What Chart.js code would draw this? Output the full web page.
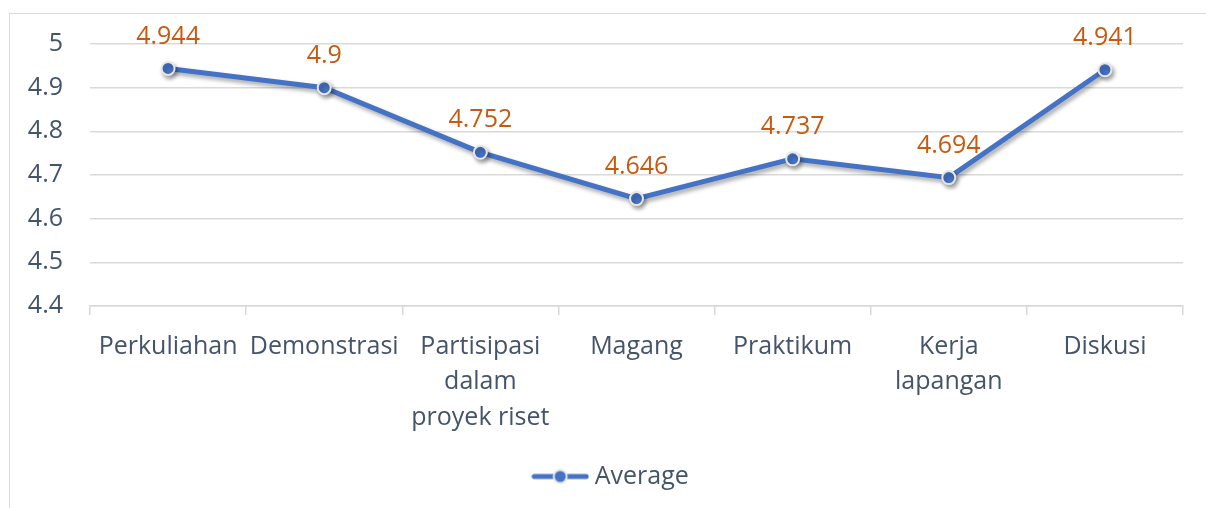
<!DOCTYPE html>
<html>
<head>
<meta charset="utf-8">
<script src="https://cdn.jsdelivr.net/npm/chart.js@4/dist/chart.umd.min.js"></script>
<style>
html, body { margin: 0; padding: 0; background: #fff; }
#marco { position: absolute; left: 9px; top: 13px; width: 1300px; height: 600px; border: 1.5px solid #d9d9d9; }
#lienzo { position: absolute; left: 0; top: 0; }
</style>
</head>
<body>
<div id="marco"></div>
<canvas id="lienzo" width="1206" height="508"></canvas>
<script>
// datos
const categorias = ['Perkuliahan', 'Demonstrasi', ['Partisipasi', 'dalam', 'proyek riset'], 'Magang', 'Praktikum', ['Kerja', 'lapangan'], 'Diskusi'];
const promedio = [4.944, 4.9, 4.752, 4.646, 4.737, 4.694, 4.941];
const etiquetaSerie = 'Average';

const azul = '#4472C4';
const naranja = '#C55A11';
const gris = '#44546A';
const fuente = '"Open Sans", Lato, sans-serif';

// icono de leyenda: linea con punto
const icono = document.createElement('canvas');
icono.width = 58; icono.height = 18;
const ic = icono.getContext('2d');
ic.strokeStyle = azul; ic.lineWidth = 5; ic.lineCap = 'round';
ic.beginPath(); ic.moveTo(3, 9); ic.lineTo(55, 9); ic.stroke();
ic.beginPath(); ic.arc(29, 9, 6.5, 0, Math.PI * 2);
ic.fillStyle = azul; ic.fill();
ic.lineWidth = 2; ic.strokeStyle = '#e6e6e6'; ic.stroke();

// sombra de la linea
const sombra = {
  id: 'sombra',
  beforeDatasetsDraw(chart) {
    const ctx = chart.ctx;
    ctx.save();
    ctx.shadowColor = 'rgba(0,0,0,0.35)';
    ctx.shadowBlur = 4;
    ctx.shadowOffsetX = 2;
    ctx.shadowOffsetY = 3;
  },
  afterDatasetsDraw(chart) {
    chart.ctx.restore();
  }
};

// etiquetas de valor sobre cada punto
const etiquetasValor = {
  id: 'etiquetasValor',
  afterDatasetsDraw(chart) {
    const ctx = chart.ctx;
    const meta = chart.getDatasetMeta(0);
    ctx.save();
    ctx.font = '25px ' + fuente;
    ctx.fillStyle = naranja;
    ctx.textAlign = 'center';
    ctx.textBaseline = 'middle';
    meta.data.forEach((p, i) => {
      ctx.fillText(String(promedio[i]), p.x, p.y - 32);
    });
    ctx.restore();
  }
};

// correr la leyenda un poco a la derecha, como en el original
const moverLeyenda = {
  id: 'moverLeyenda',
  afterLayout(chart) {
    chart.legend.left += 22;
    chart.legend.right += 22;
  }
};

new Chart(document.getElementById('lienzo').getContext('2d'), {
  type: 'line',
  data: {
    labels: categorias,
    datasets: [{
      label: etiquetaSerie,
      data: promedio,
      borderColor: azul,
      backgroundColor: azul,
      borderWidth: 5,
      pointRadius: 6.5,
      pointBorderWidth: 2,
      pointBorderColor: '#e6e6e6',
      pointBackgroundColor: azul,
      pointStyle: 'circle',
      tension: 0,
      fill: false
    }]
  },
  options: {
    responsive: false,
    animation: false,
    layout: { padding: { left: 0, right: 23, top: 44, bottom: 9 } },
    scales: {
      y: {
        min: 4.4,
        max: 5,
        afterFit(scale) { scale.width = 90; },
        ticks: {
          stepSize: 0.1,
          color: gris,
          padding: 27,
          font: { family: fuente, size: 25 },
          callback: v => Math.round(v * 10) / 10
        },
        grid: { color: '#d9d9d9', lineWidth: 1.5, drawTicks: false },
        border: { display: false }
      },
      x: {
        offset: true,
        afterFit(scale) { scale.height = 148; },
        ticks: {
          color: gris,
          padding: 14,
          maxRotation: 0,
          autoSkip: false,
          font: { family: fuente, size: 25, lineHeight: 1.42 }
        },
        grid: {
          offset: true,
          drawOnChartArea: false,
          drawTicks: true,
          tickLength: 9,
          color: '#d9d9d9',
          lineWidth: 1.5
        },
        border: { display: true, color: '#d9d9d9', width: 1.5 }
      }
    },
    plugins: {
      legend: {
        position: 'bottom',
        labels: {
          color: gris,
          padding: 10,
          font: { family: fuente, size: 25 },
          usePointStyle: true,
          pointStyleWidth: 44,
          generateLabels: () => [{
            text: etiquetaSerie,
            pointStyle: icono,
            fontColor: gris,
            lineWidth: 0,
            hidden: false,
            datasetIndex: 0
          }]
        }
      },
      tooltip: { enabled: false }
    }
  },
  plugins: [sombra, etiquetasValor, moverLeyenda]
});
</script>
</body>
</html>
